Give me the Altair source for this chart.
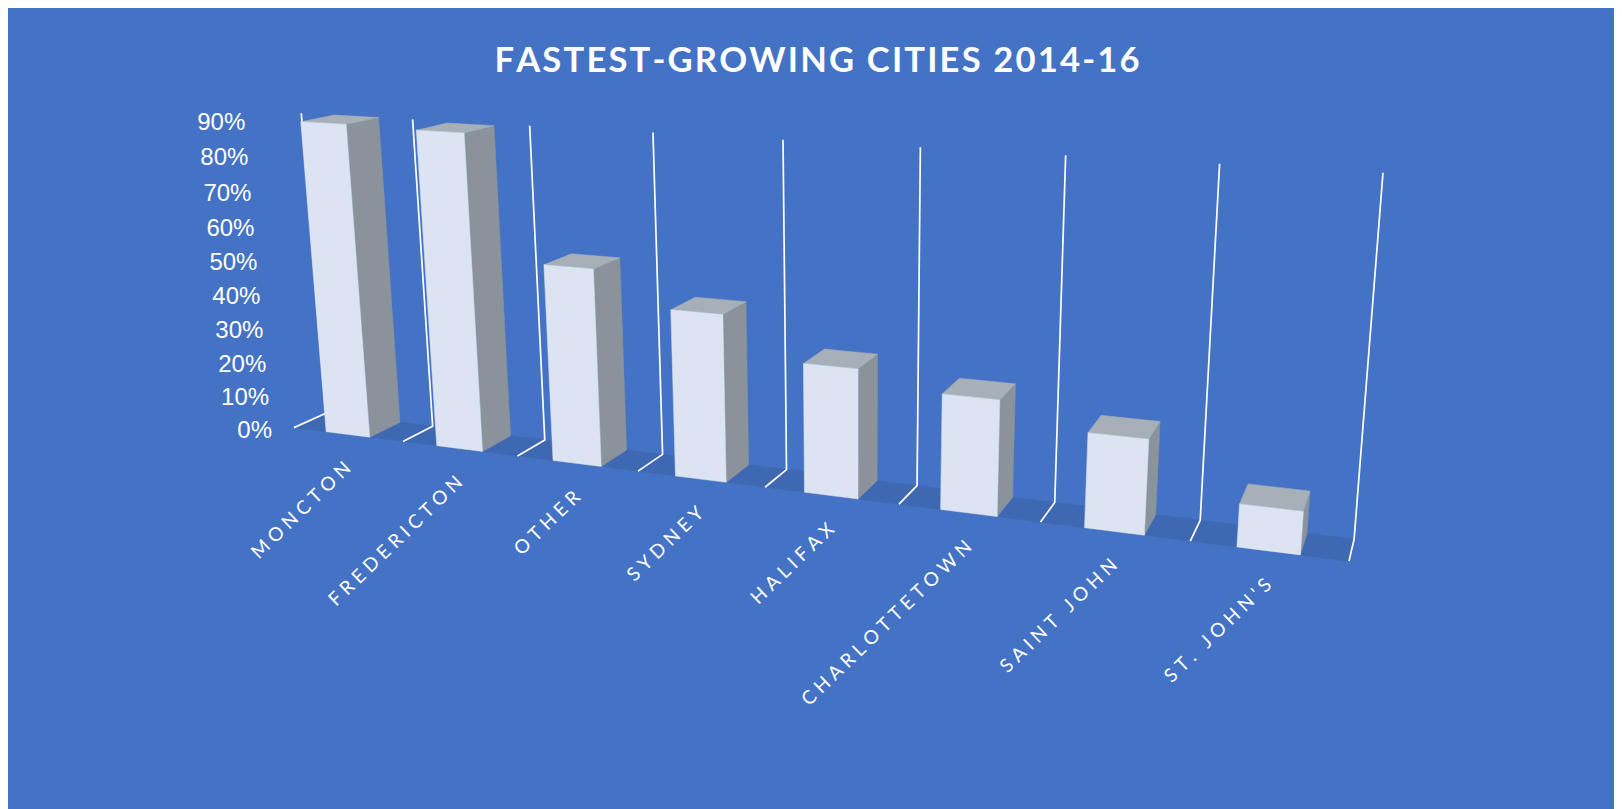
import altair as alt
import numpy as np
import pandas as pd

TITLE = "FASTEST-GROWING CITIES 2014-16"
categories = ["MONCTON", "FREDERICTON", "OTHER", "SYDNEY", "HALIFAX",
              "CHARLOTTETOWN", "SAINT JOHN", "ST. JOHN'S"]
values = [90, 89.5, 55.2, 46, 35, 30.7, 24.7, 11]
ticks = [0, 10, 20, 30, 40, 50, 60, 70, 80, 90]

AXIS_MAX = 90
GAP = 0.3
BG, FRONT, SIDE, TOP, FLOOR = "#4472C4", "#DCE3F2", "#8A929C", "#A7AFB9", "#3E69B2"

# Camera calibration: the oblique 3-D view of the plot box
# world = (category position, fraction of axis, depth 0 front..1 back)
calib_world = [(0, 0, 0), (4, 0, 0), (8, 0, 0), (0, 0, 1), (4, 0, 1), (8, 0, 1),
               (0, 1, 1), (4, 1, 1), (8, 1, 1)]
calib_page = [(294, 427.7), (765, 487), (1349, 561.3), (325.7, 413.3), (786.7, 469.3),
              (1354, 539.3), (301.3, 113.3), (783, 139.7), (1383, 172.7)]
A, b = [], []
for (X, Y, Z), (u, v) in zip(calib_world, calib_page):
    A.append([X, Y, Z, 1, 0, 0, 0, 0, -u * X, -u * Y, -u * Z]); b.append(u)
    A.append([0, 0, 0, 0, X, Y, Z, 1, -v * X, -v * Y, -v * Z]); b.append(v)
p = np.linalg.lstsq(np.array(A, float), np.array(b, float), rcond=None)[0]


def project(X, Y, Z):
    w = p[8] * X + p[9] * Y + p[10] * Z + 1
    return ((p[0] * X + p[1] * Y + p[2] * Z + p[3]) / w,
            (p[4] * X + p[5] * Y + p[6] * Z + p[7]) / w)


def polygons(faces):
    rows = []
    for gid, pts in enumerate(faces):
        for k, pt in enumerate(list(pts) + [pts[0]]):
            u, v = project(*pt)
            rows.append({"g": gid, "o": k, "u": u, "v": v})
    return pd.DataFrame(rows)


W, H = 1606, 801
xs = alt.X("u:Q", scale=alt.Scale(domain=[8, 8 + W], nice=False, zero=False), axis=None)
ys = alt.Y("v:Q", scale=alt.Scale(domain=[8 + H, 8], nice=False, zero=False), axis=None)


def fill_layer(faces, color):
    return alt.Chart(polygons(faces)).mark_line(
        fill=color, stroke=color, strokeWidth=0.5, interpolate="linear"
    ).encode(x=xs, y=ys, detail="g:N", order="o:Q")


n = len(categories)
floor = [[(0, 0, 0), (n, 0, 0), (n, 0, 1), (0, 0, 1)]]

wall_rows = []
for i in range(n + 1):
    for k, pt in enumerate([(i, 0, 0), (i, 0, 1), (i, 1, 1)]):
        u, v = project(*pt)
        wall_rows.append({"g": i, "o": k, "u": u, "v": v})
walls = alt.Chart(pd.DataFrame(wall_rows)).mark_line(
    color="white", strokeWidth=1.7, interpolate="linear"
).encode(x=xs, y=ys, detail="g:N", order="o:Q")

side_f, top_f, front_f = [], [], []
for i, val in enumerate(values):
    x0, x1, y = i + GAP, i + 1 - GAP, val / AXIS_MAX
    front_f.append([(x0, 0, 0), (x1, 0, 0), (x1, y, 0), (x0, y, 0)])
    side_f.append([(x1, 0, 0), (x1, 0, 1), (x1, y, 1), (x1, y, 0)])
    top_f.append([(x0, y, 0), (x1, y, 0), (x1, y, 1), (x0, y, 1)])

tick_rows = []
for t in ticks:
    u, v = project(0, t / AXIS_MAX, 0)
    tick_rows.append({"u": u - 22, "v": v + 3, "t": f"{t}%"})
tick_text = alt.Chart(pd.DataFrame(tick_rows)).mark_text(
    font="Liberation Sans", fontSize=24, color="white", align="right", baseline="middle"
).encode(x=xs, y=ys, text="t:N")

cat_rows = []
for i, c in enumerate(categories):
    u, v = project(i + 0.5, 0, 0)
    cat_rows.append({"u": u, "v": v + 31, "t": "\u200a\u200a\u200a\u200a".join(c)})
cat_text = alt.Chart(pd.DataFrame(cat_rows)).mark_text(
    font="Lato", fontSize=19, color="white", align="right", baseline="middle", angle=316
).encode(x=xs, y=ys, text="t:N")

chart = alt.layer(
    fill_layer(floor, FLOOR),
    walls,
    fill_layer(side_f, SIDE),
    fill_layer(top_f, TOP),
    fill_layer(front_f, FRONT),
    tick_text,
    cat_text,
).properties(
    width=W, height=H, padding=0, background=BG,
    autosize=alt.AutoSizeParams(type="none"),
    title=alt.TitleParams("\u200a".join(TITLE), font="Lato", fontSize=34.6, fontWeight="bold",
                          color="white", anchor="middle", frame="group", dx=6, dy=72, offset=0),
).configure_view(stroke=None)

chart.save("out.html", embed_options={"renderer": "svg", "actions": False})
